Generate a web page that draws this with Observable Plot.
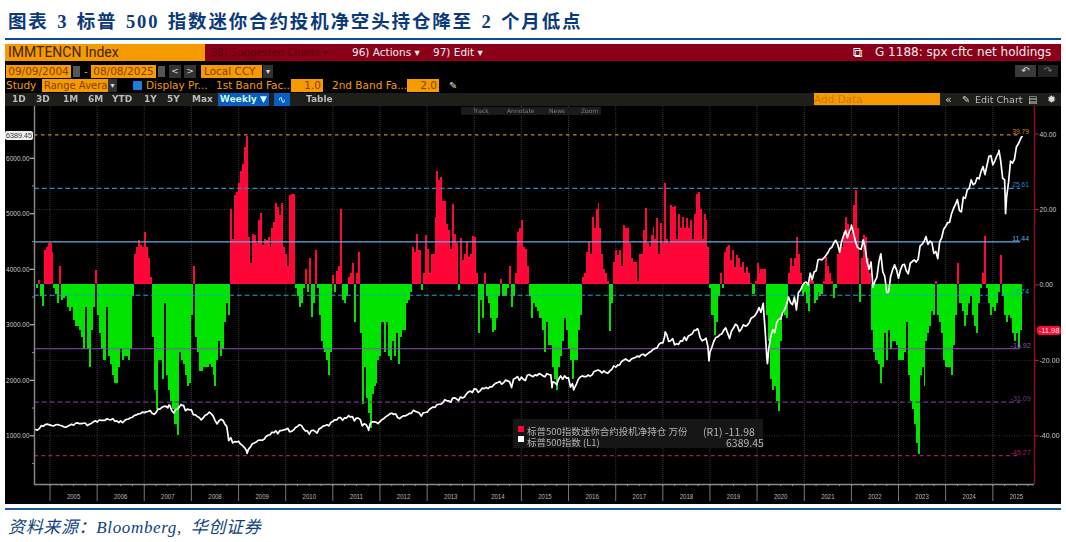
<!DOCTYPE html>
<html><head><meta charset="utf-8">
<script src="https://cdn.jsdelivr.net/npm/d3@7"></script>
<script src="https://cdn.jsdelivr.net/npm/@observablehq/plot@0.6"></script>
<style>
html,body{margin:0;padding:0;background:#fff;overflow:hidden;width:1066px;height:542px}
#root{position:relative;width:1066px;height:542px;overflow:hidden}
.a{position:absolute;white-space:nowrap;line-height:1;box-sizing:border-box}
#chart{position:absolute;left:5px;top:106px;filter:blur(.35px)}
#chart svg{display:block;background:#000}
</style></head><body><div id="root"></div>
<script>
// ---------- data: net position (10k contracts), half-month readings per year ----------
const net2004=[-1,1.3,-3,-5.7,9,10,11];
const net2005=[11,8.5,-1,-2.5,-5,5,-4,-3.5,-3,-6,-7,-6,-9.5,-11,-11,-12,-14,-17,-6,-17,-22,-12,-6,3.8];
const net2006=[-8,-13,-17,-20,-20,-6,-19,-21,-24,-26,-26,-22,-17,-20,-19,-19,-20,-17,-3,8,10,11.7,10.5,10];
const net2007=[14,10,7,2,-14,-28,-33,-20,-20,-25,-5,-24,-28,-31,-33,-37,-40,-18,-20,-21,-24,-27,-26];
const net2008=[-8,5,-14,-18,-23,-23,-22,-22,-22,-21,-22,-24,-27,-20,-15,-19,-17,-10,-5,-8,20,12,23.7,24.6];
const net2009=[27,30,32,36.5,39.3,12.6,5.6,13.5,13,11,17,19,10.5,12,11.8,12.6,10,15,16.6,21.5,20.6,18.4,21.5,10];
const net2010=[8,5,23.7,24,24,-1,-3,-5.9,-5,-1,4,-2,6.9,-8.6,-5,9,-1,-8,-15,-17,-18,-20,-24,-18];
const net2011=[2.5,-2,3.5,5,20,-4,-5,-3,2,3,5.7,-10,3,8.7,-13,-31.6,-22,-30,-34,-38,-29,-27,-26,-20];
const net2012=[-19,-10,-18,-10,-19,-20,-15,-19,-13,-21,-14,-12,-12,-5,-4,-2,10,8.7,13.5,9,-1.5,3,13];
const net2013=[9.5,3,8,8,18,30,27.7,28.5,22,22,16,14.4,9.5,21.3,13.5,11,-1.5,12.2,6.5,8,11.3,7.3,8,12.8];
const net2014=[12.6,3,-12.8,-4,-9,3,-3,-5,-9,-12.5,-12,-9,-3,1.5,-3,-3,-1,5,-6,-3,3,14,15];
const net2015=[17,10,9.5,5,-3,-9,-5,-6,-7,-9,-9,-12,-18,-10,-16,-16,-22,-25,-28,-22,-19,-15,-9,-12];
const net2016=[-17,-20,-25,-20,-20,-12,-8,2,3,8.7,11.3,8,18,15,20,21.7,15,8,4,3,1,-12.4,-5,6];
const net2017=[9,7.8,9,5,15.7,15,14.9,11,7,6,6,1,8,8,14.4,20.2,11,10,13,15.3,12,17.5,8,16.2];
const net2018=[11,27,12,11,21,20.4,20.8,12,18.8,15,18,15,17.5,15,17,12,18.8,24.1,24.6,20,12,18.8,17,10];
const net2019=[-1,-8,-13.4,-10,-3,3,-1,8.7,10,10.4,6.5,9,4.7,7.8,7,4.7,6,3,4.7,3,0.5,-2.5,1];
const net2020=[5.6,3,4.2,4,4,-8,-15,-25,-28,-27,-31,-33.5,-15,-7,-8,-9,3,7,5,7,12.6,8,3,-3];
const net2021=[-2,-5,-7,1.5,1,-5,-4,-2,-3,-2.5,1,7.3,5,3,1,-3.5,-1,8,9,10,14,18,16,13.5];
const net2022=[14,21,25,15,-4.6,7,13,12.6,7,3,-12,-18,-20,-21,-26,-22,-13,-20,-12,-17,-15,-15,-16];
const net2023=[-20,-20,-20,-18,-10,-24,-31,-33,-37,-42,-45,-24,-22,-27,-15,-13,-11,-7,-8,1,-8,-10,-13,-20];
const net2024=[-22,-22,-22,-24,-16,-8,5.6,-5,-7,-11,-8,-5,-3,-8,-11,-13,-5,-1,3,12.9,-1,-5,-8];
const net2025=[-6,-7,-5,-2,7.8,-3,-8,-10,-8,-9,-13,-15,-13,-16.5,-12];
// ---------- data: S&P 500, month-end readings ----------
const spx2004=[1114,1130,1173,1211];
const spx2005=[1181,1203,1180,1156,1191,1191,1234,1220,1228,1207,1249,1248];
const spx2006=[1280,1280,1294,1310,1270,1270,1276,1303,1335,1377,1400,1418];
const spx2007=[1438,1406,1420,1482,1530,1503,1455,1473,1526,1549,1481,1468];
const spx2008=[1378,1330,1322,1385,1400,1280,1267,1282,1166,968,896,903];
const spx2009=[825,735,797,872,919,919,987,1020,1057,1036,1095,1115];
const spx2010=[1073,1104,1169,1186,1089,1030,1101,1049,1141,1183,1180,1257];
const spx2011=[1286,1327,1325,1363,1345,1320,1292,1218,1131,1253,1246,1257];
const spx2012=[1312,1365,1408,1397,1310,1362,1379,1406,1440,1412,1416,1426];
const spx2013=[1498,1514,1569,1597,1630,1606,1685,1632,1681,1756,1805,1848];
const spx2014=[1782,1859,1872,1883,1923,1960,1930,2003,1972,2018,2067,2058];
const spx2015=[1995,2104,2067,2085,2107,2063,2103,1972,1920,2079,2080,2043];
const spx2016=[1940,1932,2059,2065,2096,2098,2173,2170,2168,2126,2198,2238];
const spx2017=[2278,2363,2362,2384,2411,2423,2470,2471,2519,2575,2647,2673];
const spx2018=[2823,2713,2640,2648,2705,2718,2816,2901,2913,2711,2760,2506];
const spx2019=[2704,2784,2834,2945,2752,2941,2980,2926,2976,3037,3140,3230];
const spx2020=[3225,2954,2584,2912,3044,3100,3271,3500,3363,3269,3621,3756];
const spx2021=[3714,3811,3972,4181,4204,4297,4395,4522,4307,4605,4567,4766];
const spx2022=[4515,4373,4530,4131,4132,3785,4130,3955,3585,3871,4080,3839];
const spx2023=[4076,3970,4109,4169,4179,4450,4588,4507,4288,4193,4567,4769];
const spx2024=[4845,5096,5254,5035,5277,5460,5522,5648,5762,5705,6032,5881];
const spx2025=[6040,5954,5611,5569,5911,6204,6339,6389.45];
// ---------- data: S&P 500, mid-month readings ----------
const mid2004=[1120,1103,1183,1203];
const mid2005=[1184,1200,1190,1162,1173,1210,1227,1219,1227,1186,1224,1270];
const mid2006=[1285,1280,1307,1289,1261,1240,1236,1297,1325,1370,1396,1428];
const mid2007=[1431,1456,1387,1482,1514,1533,1549,1411,1481,1548,1452,1469];
const mid2008=[1380,1349,1288,1370,1425,1360,1214,1298,1213,915,873,890];
const mid2009=[850,789,756,858,890,925,940,1010,1065,1090,1095,1107];
const mid2010=[1136,1080,1150,1200,1130,1090,1095,1080,1125,1175,1200,1240];
const mid2011=[1290,1330,1280,1320,1340,1270,1320,1180,1200,1220,1250,1220];
const mid2012=[1290,1345,1395,1385,1330,1340,1360,1405,1460,1430,1355,1420];
const mid2013=[1470,1520,1560,1570,1650,1630,1680,1665,1700,1700,1790,1780];
const mid2014=[1840,1810,1850,1850,1880,1950,1980,1960,1990,1870,2040,2000];
const mid2015=[2020,2090,2080,2100,2120,2080,2120,2100,1960,2020,2020,2040];
const mid2016=[1880,1860,2020,2080,2065,2075,2160,2185,2135,2140,2170,2260];
const mid2017=[2275,2340,2385,2345,2400,2435,2460,2440,2500,2555,2580,2675];
const mid2018=[2800,2700,2750,2660,2710,2780,2800,2840,2905,2770,2730,2600];
const mid2019=[2600,2770,2820,2900,2850,2890,3010,2880,3000,2990,3120,3170];
const mid2020=[3310,3370,2400,2800,2860,3100,3220,3370,3400,3500,3580,3700];
const mid2021=[3770,3930,3950,4170,4170,4250,4370,4470,4450,4500,4700,4680];
const mid2022=[4660,4400,4360,4390,4000,3680,3860,4280,3870,3600,3990,3990];
const mid2023=[3990,4090,3920,4140,4130,4420,4500,4450,4480,4320,4500,4720];
const mid2024=[4840,5000,5170,5060,5300,5430,5610,5550,5630,5850,5870,6050];
const mid2025=[5950,6110,5640,5300,5950,5980,6260,6380];
// turning points between readings: [decimal year, level]
const spxTurns=[[2007.52,1553],[2007.78,1565],[2008.38,1426],[2009.18,683],[2011.76,1099],[2015.65,1867],[2016.11,1829],[2018.05,2873],[2018.73,2930],[2018.98,2351],[2020.13,3386],[2020.22,2300],[2022,4797],[2022.78,3583],[2025.13,6144],[2025.27,5000]];
const levels=[39.79,25.61,11.44,-2.74,-16.92,-31.09,-45.27];
const levelColors=["#c88a1e","#2e86c8","#63aee0","#17a3c6","#8c50b8","#6a3a82","#a81a5c"];
const levelDash=["3.5 3.5","5 2.8",null,"5 2.8",null,"5 2.8","4 3.2"];
const leftTicks=[1000,2000,3000,4000,5000,6000];
const leftMinor=[500,1500,2500,3500,4500,5500];
const rightTicks=[40,20,0,-20,-40];
const gridLevels=[20,-20,-40];
const years=d3.range(2005,2026);

// ---------- build ----------
const date=t=>{const y=Math.floor(t);const s=+new Date(Date.UTC(y,0,1)),e=+new Date(Date.UTC(y+1,0,1));return new Date(s+(t-y)*(e-s));};
const toR=s=>-40+(s-1000)*0.014716;
const netBy={2005:net2005,2006:net2006,2007:net2007,2008:net2008,2009:net2009,2010:net2010,2011:net2011,2012:net2012,2013:net2013,2014:net2014,2015:net2015,2016:net2016,2017:net2017,2018:net2018,2019:net2019,2020:net2020,2021:net2021,2022:net2022,2023:net2023,2024:net2024};
const bars=[];
net2004.forEach((v,i)=>bars.push({a:2004.71+i/24,b:2004.71+(i+1)/24,v}));
for(const y of Object.keys(netBy)){const arr=netBy[y];arr.forEach((v,i)=>bars.push({a:+y+i/arr.length,b:+y+(i+1)/arr.length,v}));}
net2025.forEach((v,i)=>bars.push({a:2025+i/24,b:2025+(i+1)/24,v}));
const spxBy={2005:spx2005,2006:spx2006,2007:spx2007,2008:spx2008,2009:spx2009,2010:spx2010,2011:spx2011,2012:spx2012,2013:spx2013,2014:spx2014,2015:spx2015,2016:spx2016,2017:spx2017,2018:spx2018,2019:spx2019,2020:spx2020,2021:spx2021,2022:spx2022,2023:spx2023,2024:spx2024,2025:spx2025};
const midBy={2005:mid2005,2006:mid2006,2007:mid2007,2008:mid2008,2009:mid2009,2010:mid2010,2011:mid2011,2012:mid2012,2013:mid2013,2014:mid2014,2015:mid2015,2016:mid2016,2017:mid2017,2018:mid2018,2019:mid2019,2020:mid2020,2021:mid2021,2022:mid2022,2023:mid2023,2024:mid2024,2025:mid2025};
let line=[];
spx2004.forEach((s,i)=>line.push({t:2004.69+i/12,s}));
mid2004.forEach((s,i)=>line.push({t:2004.69+(i-.5)/12,s}));
for(const y of Object.keys(spxBy))spxBy[y].forEach((s,i)=>line.push({t:+y+(i+1)/12-(y==2025&&i==7?0.045:0),s}));
for(const y of Object.keys(midBy))midBy[y].forEach((s,i)=>line.push({t:+y+(i+.5)/12-(y==2025&&i==7?0.02:0),s}));
spxTurns.forEach(([t,s])=>line.push({t,s}));
line=line.filter(d=>d.t>=2004.69);
line.sort((p,q)=>p.t-q.t);

const startT=2004.671,endT=2025.884,lvlEnd=2025.59;
const xMin=date(startT),xMax=date(endT);
const R0=-52.9,R1=47.3;
const marks=[
  Plot.ruleX(years.map(y=>date(y)),{stroke:"#3a3a3a",strokeWidth:1,strokeDasharray:"1 1"}),
  ...gridLevels.map(g=>Plot.ruleY([g],{stroke:"#333",strokeDasharray:"1 1.5"})),
  Plot.rect(bars.filter(d=>d.v>=0),{x1:d=>date(d.a),x2:d=>date(d.b),y1:()=>0,y2:"v",fill:"#ff0638",shapeRendering:"crispEdges",inset:0}),
  Plot.rect(bars.filter(d=>d.v<0),{x1:d=>date(d.a),x2:d=>date(d.b),y1:()=>0,y2:"v",fill:"#00e400",shapeRendering:"crispEdges",inset:0}),
  ...levels.map((l,i)=>Plot.ruleY([l],{x1:()=>xMin,x2:()=>date(lvlEnd),stroke:levelColors[i],strokeWidth:1.2,strokeDasharray:levelDash[i]||undefined})),
  Plot.line(line,{x:d=>date(d.t),y:d=>toR(d.s),stroke:"#fff",strokeWidth:1.7,curve:"linear"}),
  Plot.text(levels,{x:()=>date(lvlEnd),y:d=>d,text:d=>d.toFixed(2),fill:(d,i)=>levelColors[i],fontSize:8,dy:-3.5,textAnchor:"middle"}),
  Plot.ruleY([R0],{stroke:"#8a8a8a",strokeWidth:1.4}),
  Plot.ruleX([xMin],{stroke:"#8a8a8a",strokeWidth:1.4}),
  Plot.ruleX([xMax],{stroke:"#8c1020",strokeWidth:1.4}),
  Plot.axisY(leftTicks.map(toR),{anchor:"left",label:null,tickSize:4,tickPadding:1,stroke:"#ddd",fill:"#c8c8c8",fontSize:8,tickFormat:r=>((r+40)/0.014716+1000).toFixed(2)}),
  Plot.axisY(leftMinor.map(toR),{anchor:"left",label:null,tickSize:2,stroke:"#888",tickFormat:()=>""}),
  Plot.axisY(rightTicks,{anchor:"right",label:null,tickSize:4,tickPadding:1,stroke:"#e01030",fill:"#c8c8c8",fontSize:8,tickFormat:d=>d.toFixed(2)}),
  Plot.axisX(years.map(y=>date(y)),{anchor:"bottom",label:null,tickSize:17,stroke:"#777",tickFormat:()=>""}),
  Plot.axisX(d3.range(0,85).map(i=>date(2005+i/4)).filter(d=>d<xMax),{anchor:"bottom",label:null,tickSize:2,stroke:"#999",tickFormat:()=>""}),
  Plot.axisX(years.map(y=>date(y+0.5)),{anchor:"bottom",label:null,tickSize:0,tickPadding:9,fill:"#b8b8b8",fontSize:8,tickFormat:d=>String(d.getUTCFullYear())})
];
const chart=Plot.plot({width:1056,height:398,marginLeft:29,marginRight:27,marginTop:0,marginBottom:20,
  x:{type:"utc",domain:[xMin,xMax],axis:null},
  y:{domain:[R0,R1],axis:null},
  style:{background:"#000",fontFamily:"'Liberation Sans',sans-serif",color:"#ccc",overflow:"visible"},
  marks});
// the terminal's numerals are condensed: squeeze each chart label to that width
chart.querySelectorAll("text").forEach(t=>{const n=t.textContent.length;if(n>=4){t.setAttribute("textLength",(n*3.35).toFixed(1));t.setAttribute("lengthAdjust","spacingAndGlyphs");}});
const root=document.getElementById("root");
const box=(x,y,w,h,txt,st="")=>{const d=document.createElement("div");d.className="a";d.style.cssText=`left:${x}px;top:${y}px;${w?`width:${w}px;`:""}${h?`height:${h}px;line-height:${h}px;`:""}${st}`;d.textContent=txt;root.appendChild(d);return d;};
const OR="#f59b00";
// black panel
box(5,44,1056,460,"","background:#000");
const wrap=document.createElement("div");wrap.id="chart";wrap.appendChild(chart);root.appendChild(wrap);
// title + rules
box(8,7,0,20,"图表 3 标普 500 指数迷你合约投机净空头持仓降至 2 个月低点","font:bold 18.5px 'Liberation Serif','Noto Sans CJK SC';color:#0b3a7a;letter-spacing:1.85px;word-spacing:2px");
box(5,38,1056,2,"","background:#0f4c8f");
box(5,508,1056,2,"","background:#1d5a9e");
box(8,513,0,20,"资料来源：Bloomberg, 华创证券","font:italic 17px 'Liberation Serif','Noto Sans CJK SC';color:#0f3f80;letter-spacing:.65px;word-spacing:4px");
// red bar
box(5,44,1056,17,"","background:#8b0018");
const F="font-family:'DejaVu Sans';";
box(5,44,200,17,"IMMTENCN Index",`font-family:Roboto;background:${OR};color:#402500;font-size:14px;padding-left:3px`);
box(211,44,130,17,"98) Suggested Charts ▾",F+"color:#5f0012;font-size:10px");
box(352,44,72,17,"96) Actions ▾",F+"color:#eee;font-size:10.5px");
box(433,44,55,17,"97) Edit ▾",F+"color:#eee;font-size:10.5px");
box(853,44,12,17,"⧉",F+"color:#fff;font-size:13px");
box(875,44,0,17,"G 1188: spx cftc net holdings",F+"color:#eee;font-size:12px");
// row 2
const r2="color:#8a3c00;font-size:10.5px;text-align:center;";
box(6,65,65,13,"09/09/2004",F+`background:${OR};`+r2);
box(73,66,7,11,"","background:#555");
box(84,65,5,13,"-",F+"color:#f59b00;font-size:10px");
box(91,65,65,13,"08/08/2025",F+`background:${OR};`+r2);
box(158,66,7,11,"","background:#555");
box(169,65,12,13,"<",F+"background:#333;color:#ddd;font-size:9px;text-align:center");
box(184,65,12,13,">",F+"background:#333;color:#ddd;font-size:9px;text-align:center");
box(201,65,61,13,"Local CCY",F+`background:${OR};color:#8a3c00;font-size:10.5px;padding-left:3px`);
box(263,65,10,13,"▾",F+"background:#333;color:#ddd;font-size:8px;text-align:center");
// row 3
const t3=F+`color:${OR};font-size:10.5px;`;
box(6,79,0,13,"Study",t3);
box(42,79,66,13,"Range Avera",F+`background:${OR};color:#8a3c00;font-size:10px;padding-left:2px;overflow:hidden`);
box(108,79,9,13,"▾",F+"background:#333;color:#ddd;font-size:8px;text-align:center");
box(133,81,9,9,"","background:#1a7fe0;border-radius:1px");
box(146,79,0,13,"Display Pr...",t3);
box(216,79,0,13,"1st Band Fac...",t3);
box(291,79,32,13,"1.0",F+`background:${OR};color:#8a3c00;font-size:10.5px;text-align:right;padding-right:2px`);
box(332,79,0,13,"2nd Band Fa...",t3);
box(407,79,32,13,"2.0",F+`background:${OR};color:#8a3c00;font-size:10.5px;text-align:right;padding-right:2px`);
box(449,79,8,13,"✎",F+"color:#ddd;font-size:10px");
box(1015,65,21,12,"↶",F+"background:#3a3a3a;color:#ddd;font-size:10px;text-align:center");
box(1038,65,20,12,"↷",F+"background:#222;color:#777;font-size:10px;text-align:center");
// row 4
box(5,93,1056,13,"","background:#1e1e1a");
const t4=F+"color:#bbb;font-size:9px;font-weight:bold;";
[[12,"1D"],[36,"3D"],[63,"1M"],[88,"6M"],[112,"YTD"],[144,"1Y"],[167,"5Y"],[192,"Max"]].forEach(([x,s])=>box(x,93,0,13,s,t4));
box(218,93,51,13,"Weekly ▼",F+"background:#0a5ec2;color:#cfe;font-size:9px;font-weight:bold;text-align:center");
box(274,93,16,13,"∿",F+"background:#0a5ec2;color:#cfe;font-size:10px;text-align:center");
box(306,93,0,13,"Table",t4);
box(814,93,126,12,"Add Data",F+`background:${OR};color:#c87800;font-size:10.5px`);
box(945,93,0,13,"«",F+"color:#ccc;font-size:11px");
box(962,93,0,13,"✎",F+"color:#ccc;font-size:10px");
box(975,93,0,13,"Edit Chart",F+"color:#bbb;font-size:9.5px");
box(1028,93,0,13,"▤",F+"color:#ccc;font-size:10px");
box(1047,93,0,13,"✹",F+"color:#ddd;font-size:11px");
// floating tools
box(461,107,140,8,"","background:#1b1b1b");
[[473,"Track"],[507,"Annotate"],[549,"News"],[581,"Zoom"]].forEach(([x,s])=>box(x,107,0,8,s,F+"color:#7e7e7e;font-size:6px"));
// value tags
box(5,131,28,9,"6389.45","font-family:'Liberation Sans';background:#eee;color:#333;font-size:7.2px;text-align:center;border-radius:2px");
box(1037,326,24,9,"-11.98","font-family:'Liberation Sans';background:#ff0a30;color:#fff;font-size:7.5px;text-align:center;border-radius:3px");
// legend
box(513,419,250,29,"","background:#161616");
box(518,426,6,6,"","background:#ff0638");
box(518,436,6,6,"","background:#fff");
const lg="font:9.5px 'Noto Sans CJK SC';color:#b4b4b4;";
box(527,424,0,10,"标普500指数迷你合约投机净持仓 万份",lg);
box(703,424,0,10,"(R1) -11.98",lg+"font-size:10.5px");
box(527,434.5,0,10,"标普500指数 (L1)",lg);
box(726,434.5,0,10,"6389.45",lg+"font-size:10.5px");
</script></body></html>
